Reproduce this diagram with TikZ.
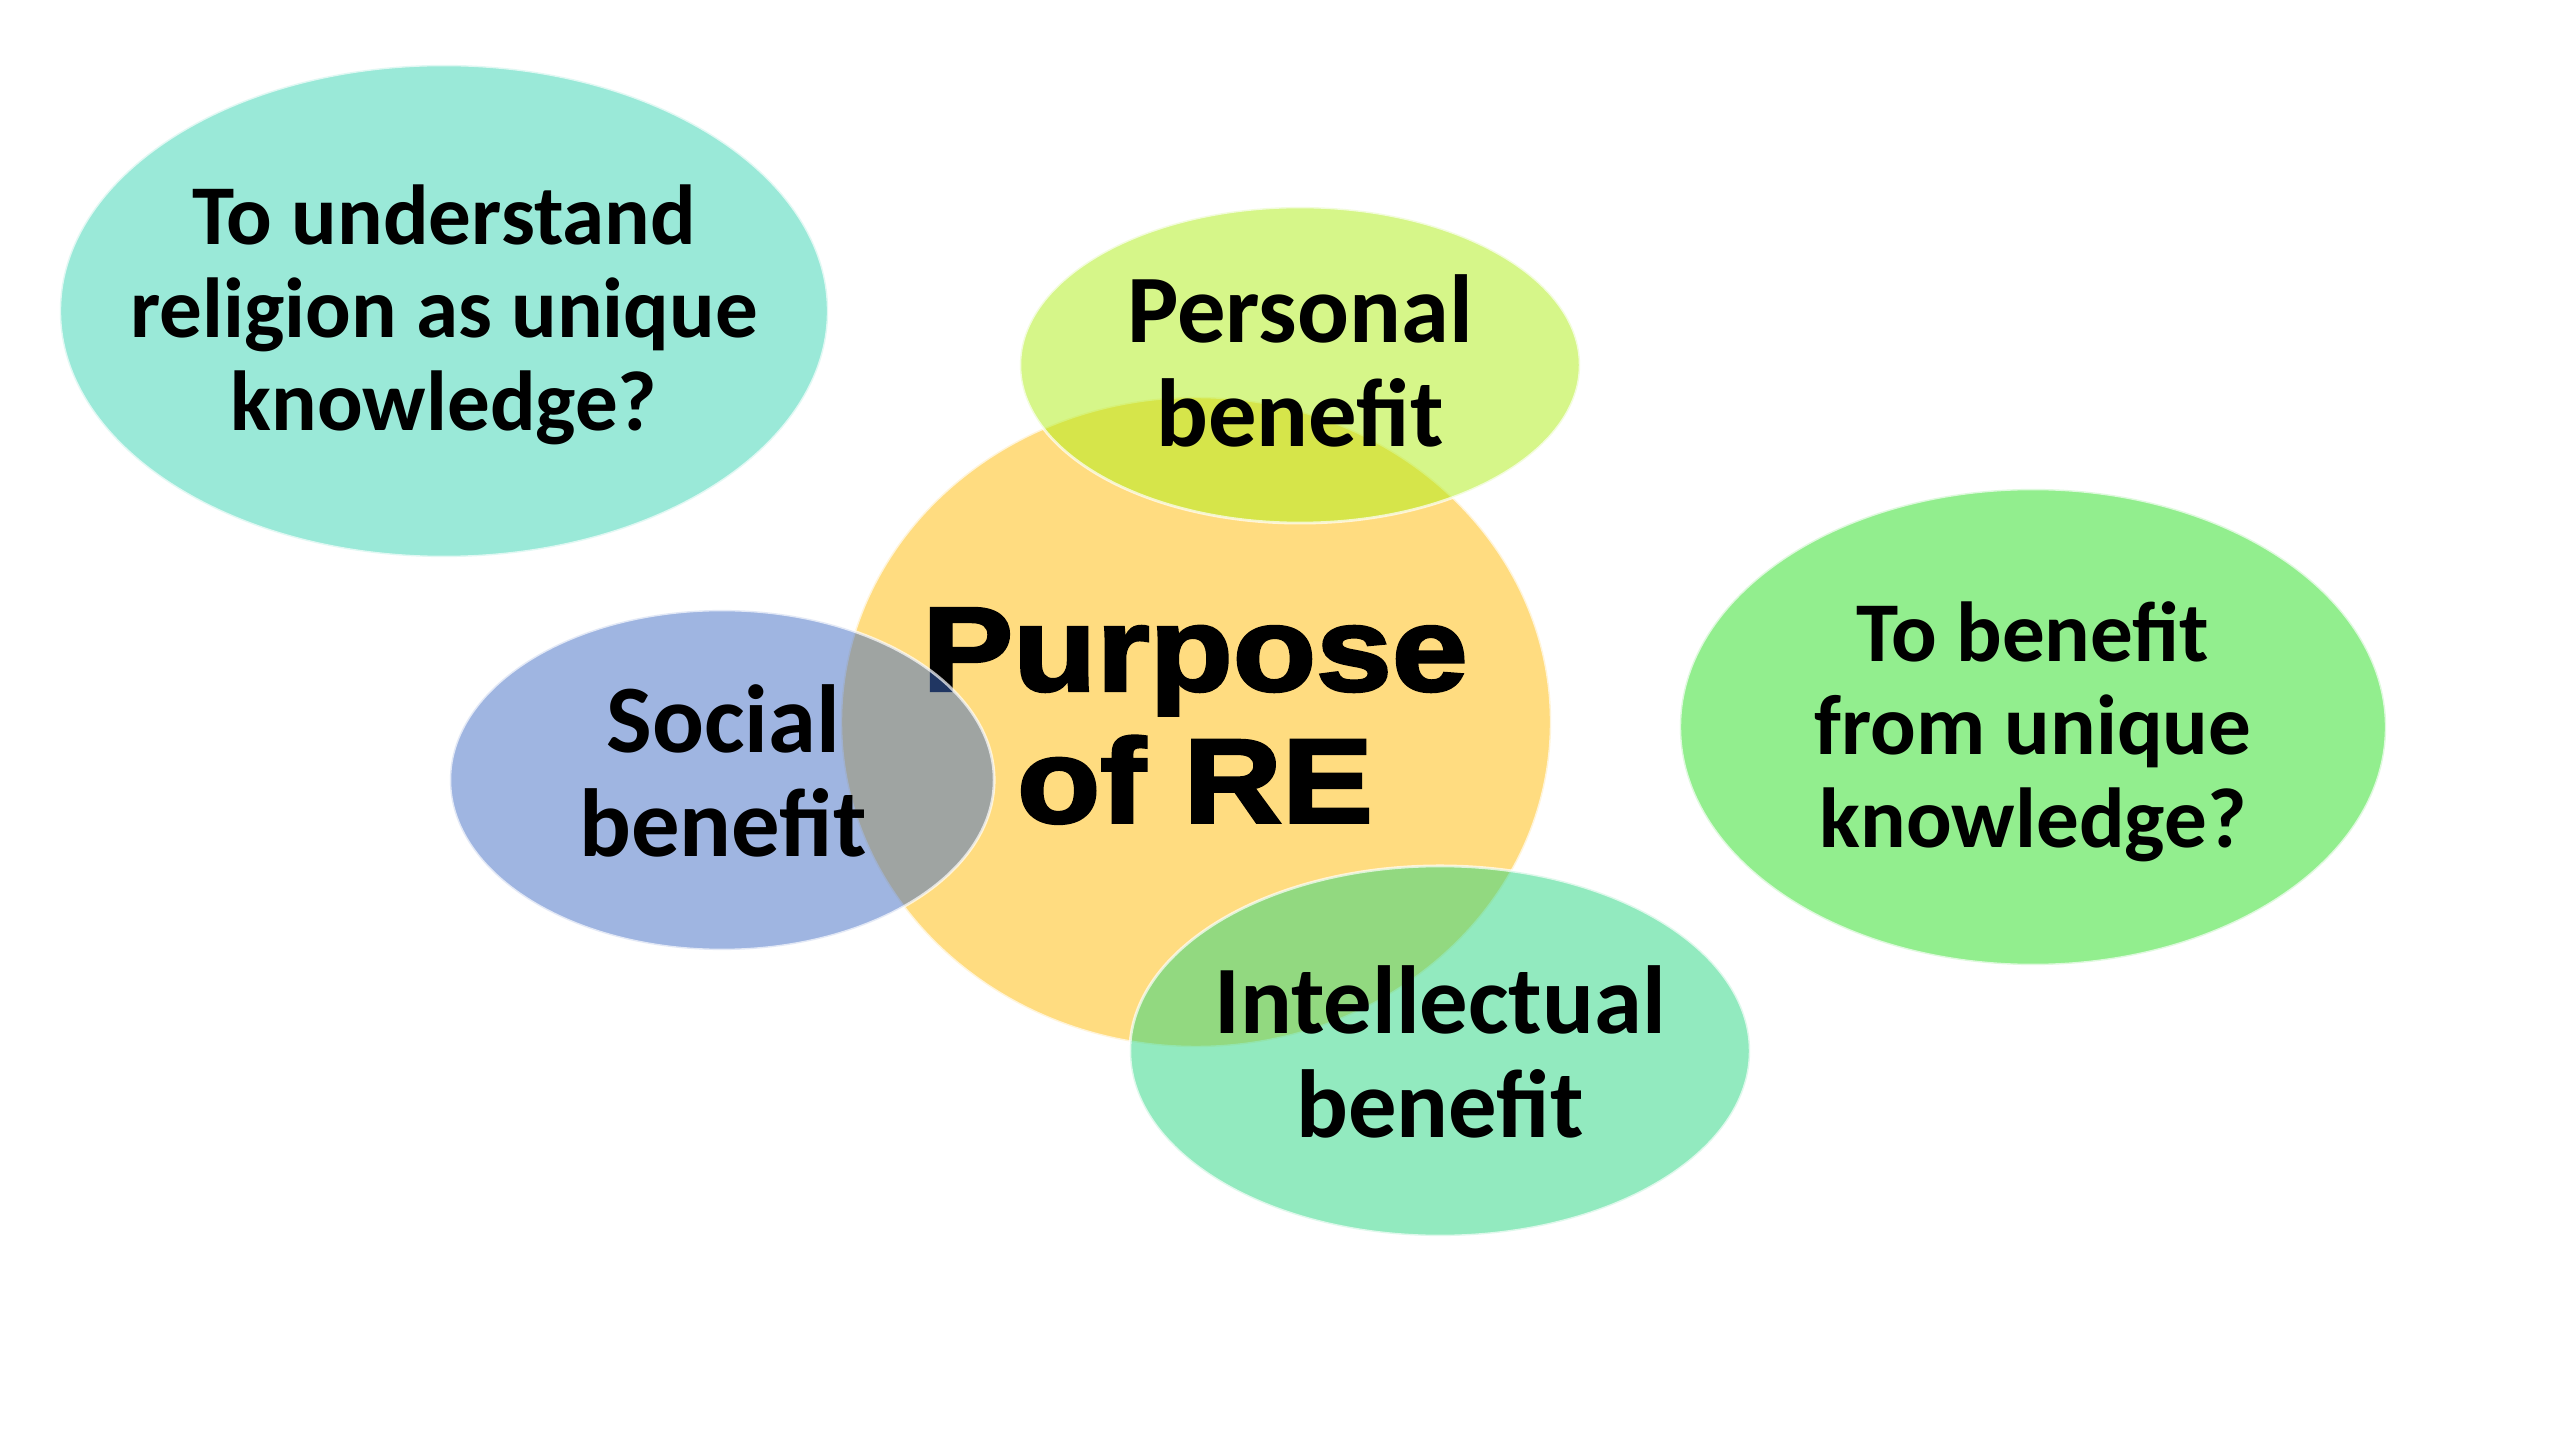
\documentclass[tikz,border=0pt]{standalone}
\usepackage{fontspec}
\setmainfont{Carlito}
\newfontfamily\heavyfont{Liberation Sans}[BoldFeatures={FakeBold=2.5,FakeStretch=1.14}]
\usetikzlibrary{shapes.geometric}

\definecolor{tealbg}{RGB}{154,233,216}
\definecolor{greenbg}{RGB}{146,238,142}
\definecolor{orangebg}{RGB}{255,220,128}
\definecolor{limebg}{RGB}{175,239,21}
\definecolor{bluebg}{RGB}{65,109,197}
\definecolor{mintbg}{RGB}{39,215,129}

\begin{document}
\begin{tikzpicture}[
            x=0.01cm,
            y=-0.01cm,
            bubble/.style={ellipse, inner sep=0pt, draw=white, draw opacity=0.7, line width=0.8pt},
            see/.style={fill opacity=0.5},
            caption/.style={align=center, text=black, font=\bfseries\fontsize{24.2}{26.4}\selectfont},
            bigcaption/.style={align=center, text=black, font=\bfseries\fontsize{27.5}{29.6}\selectfont}
        ]

            % --- Canvas ---
            \fill[white] (0,0) rectangle (2560,1440);
            \useasboundingbox (0,0) rectangle (2560,1440);

            % --- Outer questions ---
            \node[bubble, fill=tealbg, minimum width=7.68cm, minimum height=4.92cm] (understand) at (444,311) {};
            \node[caption] (understandtxt) at (444,315) {To understand\\religion as unique\\knowledge?};

            \node[bubble, fill=greenbg, minimum width=7.06cm, minimum height=4.76cm] (fromknow) at (2033,727) {};
            \node[caption] (fromknowtxt) at (2033,732) {To benefit\\from unique\\knowledge?};

            % --- Centre ---
            \node[bubble, fill=orangebg, minimum width=7.10cm, minimum height=6.50cm] (purpose) at (1196,722) {};
            \node[align=center, text=black, font=\heavyfont\bfseries\fontsize{34}{37.5}\selectfont] (purposetxt) at (1195,716) {Purpose\\of RE};

            % --- Benefits (see-through) ---
            \node[bubble, see, fill=limebg, minimum width=5.60cm, minimum height=3.16cm] (personal) at (1300,365) {};
            \node[bigcaption] (personaltxt) at (1300,361) {Personal\\benefit};

            \node[bubble, see, fill=bluebg, minimum width=5.44cm, minimum height=3.40cm] (social) at (722,780) {};
            \node[bigcaption] (socialtxt) at (723,771) {Social\\benefit};

            \node[bubble, see, fill=mintbg, minimum width=6.20cm, minimum height=3.70cm] (intellect) at (1440,1051) {};
            \node[bigcaption] (intellecttxt) at (1440,1052) {Intellectual\\benefit};

        \end{tikzpicture}
\end{document}
